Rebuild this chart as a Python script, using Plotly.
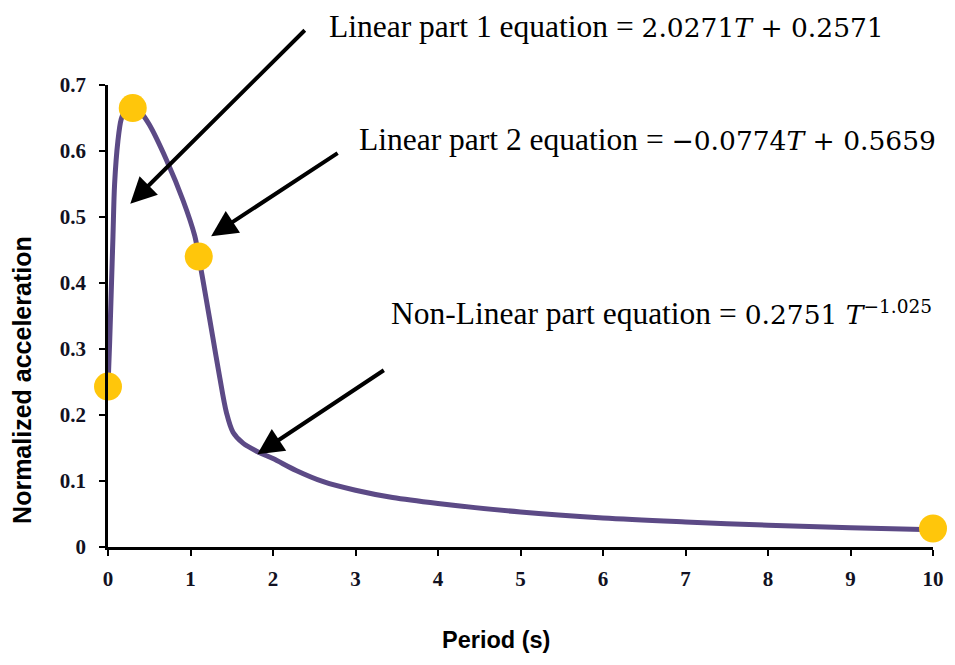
import plotly.graph_objects as go

# Curve
period = [0, 0.02, 0.04, 0.06, 0.08, 0.12, 0.16, 0.2, 0.3, 0.405, 0.5, 0.71, 0.91,
          1.05, 1.1, 1.19, 1.27, 1.35, 1.435, 1.515, 1.64, 1.82, 2.0, 2.28, 2.61, 3.0,
          3.45, 4, 5, 6, 7, 8, 9, 10]
accel = [0.243, 0.31, 0.39, 0.47, 0.55, 0.615, 0.648, 0.659, 0.665, 0.657, 0.64,
         0.586, 0.525, 0.472, 0.44, 0.376, 0.318, 0.26, 0.204, 0.174, 0.157, 0.144, 0.134,
         0.116, 0.099, 0.086, 0.075, 0.066, 0.053, 0.044, 0.038, 0.033, 0.029, 0.026]

# Highlighted points
key_period = [0, 0.3, 1.1, 10]
key_accel = [0.243, 0.665, 0.44, 0.028]

# Arrow tips (data coords)
arrow_x = [0.27, 1.25, 1.81]
arrow_y = [0.52, 0.471, 0.1405]

x_ticks = list(range(0, 11))
y_ticks = [0, 0.1, 0.2, 0.3, 0.4, 0.5, 0.6, 0.7]
y_tick_text = ["0", "0.1", "0.2", "0.3", "0.4", "0.5", "0.6", "0.7"]

fig = go.Figure()
fig.add_trace(go.Scatter(x=period, y=accel, mode="lines",
                         line=dict(color="#5c4a86", width=5, shape="spline", smoothing=0.9),
                         cliponaxis=False, showlegend=False, hoverinfo="skip"))
fig.add_trace(go.Scatter(x=key_period, y=key_accel, mode="markers",
                         marker=dict(color="#FFC60B", size=28, line=dict(width=0)),
                         cliponaxis=False, showlegend=False))

tickfont = dict(family="Liberation Serif", size=21, color="#111122", weight="bold")
fig.update_xaxes(range=[0, 10], tickvals=x_ticks, showgrid=False, zeroline=False,
                 showline=True, linecolor="black", linewidth=2.5,
                 ticks="outside", ticklen=6, tickwidth=2, tickcolor="black",
                 tickfont=tickfont, ticklabelstandoff=5)
fig.update_yaxes(range=[0, 0.7], tickvals=y_ticks, ticktext=y_tick_text, showgrid=False,
                 zeroline=False, showline=True, linecolor="black", linewidth=2.5,
                 ticks="outside", ticklen=6, tickwidth=2, tickcolor="black",
                 tickfont=tickfont, ticklabelstandoff=9)

serif = "Liberation Serif"
math = "font-family:'DejaVu Serif';font-size:26.5px"
texts = [
    ("Linear part 1 equation = <span style=\"%s\">2.0271<i>T</i> + 0.2571</span>" % math,
     0.266, 1.1256),
    ("Linear part 2 equation = <span style=\"%s\">\u22120.0774<i>T</i> + 0.5659</span>" % math,
     0.302, 0.881),
    ("Non-Linear part equation = <span style=\"%s\">0.2751 <i>T</i><sup>\u22121.025</sup></span>" % math,
     0.341, 0.506),
]
for t, x, y in texts:
    fig.add_annotation(text=t, xref="paper", yref="paper", x=x, y=y, xanchor="left",
                       yanchor="middle", showarrow=False,
                       font=dict(family=serif, size=31.5, color="black"))

offsets = [(176, -175), (128, -84), (128, -85)]
for (ax, ay), x, y in zip(offsets, arrow_x, arrow_y):
    fig.add_annotation(x=x, y=y, xref="x", yref="y", ax=ax, ay=ay, text="",
                       showarrow=True, arrowhead=2, arrowsize=1.3, arrowwidth=4,
                       arrowcolor="black", standoff=0)

fig.add_annotation(text="Period (s)", xref="paper", yref="paper", x=0.47, y=-0.202,
                   showarrow=False, xanchor="center", yanchor="middle",
                   font=dict(family="Liberation Sans", size=23.5, color="black", weight="bold"))
fig.add_annotation(text="Normalized acceleration", xref="paper", yref="paper", x=-0.1034,
                   y=0.361, textangle=-90, showarrow=False, xanchor="center", yanchor="middle",
                   font=dict(family="Liberation Sans", size=25, color="black", weight="bold"))

fig.update_layout(width=947, height=657, margin=dict(l=100, r=22, t=77, b=118),
                  plot_bgcolor="white", paper_bgcolor="white")
fig.write_html("out.html")
